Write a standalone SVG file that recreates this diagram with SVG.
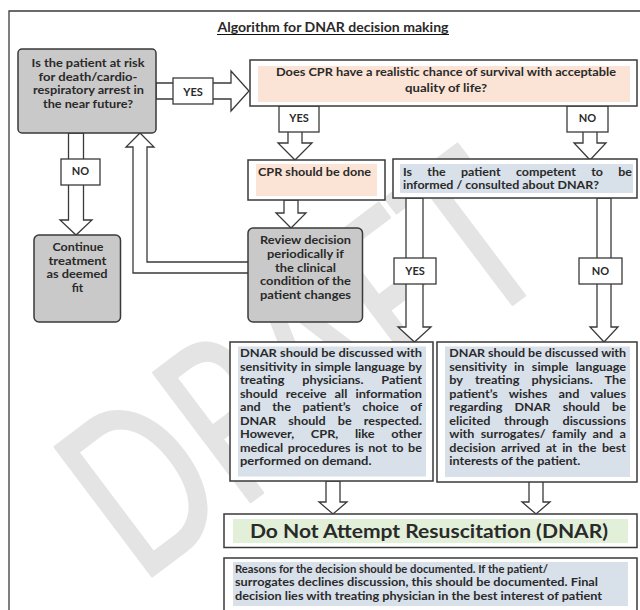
<svg xmlns="http://www.w3.org/2000/svg" width="640" height="610" viewBox="0 0 640 610">
<style>
.frame{fill:none;stroke:#3a3a3a;stroke-width:1.3}
.box{stroke:#3a3a3a;stroke-width:1.5}
.w{fill:#fff}
.g{fill:#c9c9c9}
.pk{fill:#fbe4d5}
.bl{fill:#d8e0ea}
.gr{fill:#e2efd9}
.arr{fill:#fff;stroke:#3a3a3a;stroke-width:1.3;stroke-linejoin:miter}
.lbl{fill:#fff;stroke:#3a3a3a;stroke-width:1.3}
text{font-family:Lato,"Liberation Sans",sans-serif;font-weight:700;fill:#2a2a2a}
.t{font-size:12px}
.s{font-size:11.5px}
.f{font-size:11.5px}
.m{text-anchor:middle}
.l{font-size:11px;text-anchor:middle}
.wm{font-family:Lato,"Liberation Sans",sans-serif;font-weight:400;fill:#e4e4e4;stroke:#e4e4e4;stroke-width:3;stroke-linejoin:round}
</style>
<rect width="640" height="610" fill="#fff"/>
<g id="watermark">
<text class="wm" font-size="225" transform="translate(140,585) rotate(-37) scale(0.72,1)">DRAFT</text>
</g>
<path class="frame" d="M9,610 V11 H640"/>
<g id="title">
<text x="333" y="32" font-size="13" text-anchor="middle" fill="#111" textLength="231" lengthAdjust="spacingAndGlyphs">Algorithm for DNAR decision making</text>
<line x1="217" y1="34.5" x2="449" y2="34.5" stroke="#111" stroke-width="1"/>
</g>
<g id="connectors">
<polygon class="arr" points="156,83 231,83 231,71 249,91 231,111 231,99 156,99"/>
<polygon class="arr" points="68.5,133 83.5,133 83.5,220 92,220 76,235 60,220 68.5,220"/>
<path class="arr" d="M248,262 H147 V147 H154 L140,133 L126,147 H133 V273 H248"/>
<polygon class="arr" points="288,106 302,106 302,143 312,143 295,160 278,143 288,143"/>
<polygon class="arr" points="583,106 597,106 597,143 606,143 590,160 574,143 583,143"/>
<polygon class="arr" points="284,200 298,200 298,213 306,213 291,228 276,213 284,213"/>
<polygon class="arr" points="406,198 423,198 423,327 431,327 414.5,342 398,327 406,327"/>
<polygon class="arr" points="597,198 611,198 611,327 618,327 604,342 590,327 597,327"/>
<polygon class="arr" points="326,481 340,481 340,502 347,502 333,514 319,502 326,502"/>
<polygon class="arr" points="529,481 543,481 543,502 550,502 536,514 522,502 529,502"/>
<rect class="lbl" x="173" y="78" width="40" height="26"/>
<text class="l" x="193" y="95.5">YES</text>
<rect class="lbl" x="61" y="159" width="39" height="26"/>
<text class="l" x="80.5" y="175">NO</text>
<rect class="lbl" x="279" y="106" width="40" height="26"/>
<text class="l" x="299" y="121.5">YES</text>
<rect class="lbl" x="567" y="106" width="41" height="26"/>
<text class="l" x="587.5" y="121.5">NO</text>
<rect class="lbl" x="394" y="258" width="42" height="26"/>
<text class="l" x="415" y="275">YES</text>
<rect class="lbl" x="579" y="258" width="43" height="26"/>
<text class="l" x="600.5" y="275">NO</text>
</g>
<g id="risk">
<rect class="box g" x="18" y="49" width="138" height="84" rx="4"/>
<text class="s m" x="88" y="67" textLength="113" lengthAdjust="spacingAndGlyphs">Is the patient at risk</text>
<text class="s m" x="88" y="80.5" textLength="99" lengthAdjust="spacingAndGlyphs">for death/cardio-</text>
<text class="s m" x="88.5" y="94" textLength="111" lengthAdjust="spacingAndGlyphs">respiratory arrest in</text>
<text class="s m" x="88" y="107.5" textLength="90" lengthAdjust="spacingAndGlyphs">the near future?</text>
</g>
<g id="cpr-chance">
<rect class="box w" x="250" y="60" width="387" height="46"/>
<rect class="pk" x="258" y="66" width="372" height="36"/>
<text class="t m" x="446" y="76" textLength="340" lengthAdjust="spacingAndGlyphs">Does CPR have a realistic chance of survival with acceptable</text>
<text class="t m" x="446" y="92" textLength="82" lengthAdjust="spacingAndGlyphs">quality of life?</text>
</g>
<g id="continue">
<rect class="box g" x="34" y="235" width="86.5" height="87" rx="5"/>
<text class="t m" x="78" y="251" textLength="51" lengthAdjust="spacingAndGlyphs">Continue</text>
<text class="t m" x="77.5" y="264.5" textLength="58" lengthAdjust="spacingAndGlyphs">treatment</text>
<text class="t m" x="77" y="278" textLength="61" lengthAdjust="spacingAndGlyphs">as deemed</text>
<text class="t m" x="77.5" y="292" textLength="11.5" lengthAdjust="spacingAndGlyphs">fit</text>
</g>
<g id="cpr-done">
<rect class="box w" x="248" y="160" width="137" height="40"/>
<rect class="pk" x="256" y="164" width="121" height="32"/>
<text class="t" x="258" y="176" textLength="113" lengthAdjust="spacingAndGlyphs">CPR should be done</text>
</g>
<g id="review">
<rect class="box g" x="248" y="228" width="114.5" height="94" rx="5"/>
<text class="t m" x="305.5" y="244" textLength="91" lengthAdjust="spacingAndGlyphs">Review decision</text>
<text class="t m" x="305.5" y="258" textLength="77" lengthAdjust="spacingAndGlyphs">periodically if</text>
<text class="t m" x="305.5" y="271.5" textLength="61" lengthAdjust="spacingAndGlyphs">the clinical</text>
<text class="t m" x="305.5" y="285" textLength="91" lengthAdjust="spacingAndGlyphs">condition of the</text>
<text class="t m" x="305.5" y="298.5" textLength="91" lengthAdjust="spacingAndGlyphs">patient changes</text>
</g>
<g id="competent">
<rect class="box w" x="393" y="159" width="244" height="39"/>
<rect class="bl" x="400" y="164" width="233" height="29"/>
<text class="s" x="403" y="175.5" style="word-spacing:11.4px" textLength="229" lengthAdjust="spacingAndGlyphs">Is the patient competent to be</text>
<text class="s" x="403" y="189" textLength="196" lengthAdjust="spacingAndGlyphs">informed / consulted about DNAR?</text>
</g>
<g id="dnar-competent">
<rect class="box w" x="230" y="342" width="203" height="139"/>
<rect class="bl" x="238" y="346.5" width="188" height="130"/>
<text class="t" x="240" y="357" textLength="182" lengthAdjust="spacingAndGlyphs">DNAR should be discussed with</text>
<text class="t" x="240" y="370.5" style="word-spacing:0.5px" textLength="182" lengthAdjust="spacingAndGlyphs">sensitivity in simple language by</text>
<text class="t" x="240" y="384" style="word-spacing:13.9px" textLength="182" lengthAdjust="spacingAndGlyphs">treating physicians. Patient</text>
<text class="t" x="240" y="397.5" style="word-spacing:4.7px" textLength="182" lengthAdjust="spacingAndGlyphs">should receive all information</text>
<text class="t" x="240" y="411" style="word-spacing:8.2px" textLength="182" lengthAdjust="spacingAndGlyphs">and the patient’s choice of</text>
<text class="t" x="240" y="424.5" style="word-spacing:8.7px" textLength="182" lengthAdjust="spacingAndGlyphs">DNAR should be respected.</text>
<text class="t" x="240" y="438" style="word-spacing:12.7px" textLength="182" lengthAdjust="spacingAndGlyphs">However, CPR, like other</text>
<text class="t" x="240" y="451.5" style="word-spacing:1.4px" textLength="182" lengthAdjust="spacingAndGlyphs">medical procedures is not to be</text>
<text class="t" x="240" y="465" textLength="131.5" lengthAdjust="spacingAndGlyphs">performed on demand.</text>
</g>
<g id="dnar-surrogate">
<rect class="box w" x="437" y="342" width="200" height="140"/>
<rect class="bl" x="445" y="346.5" width="185" height="130.5"/>
<text class="t" x="449.3" y="357" textLength="176.7" lengthAdjust="spacingAndGlyphs">DNAR should be discussed with</text>
<text class="t" x="449.3" y="370.5" style="word-spacing:4.1px" textLength="176.7" lengthAdjust="spacingAndGlyphs">sensitivity in simple language</text>
<text class="t" x="449.3" y="384" style="word-spacing:8.6px" textLength="176.7" lengthAdjust="spacingAndGlyphs">by treating physicians. The</text>
<text class="t" x="449.3" y="397.5" style="word-spacing:7.7px" textLength="176.7" lengthAdjust="spacingAndGlyphs">patient’s wishes and values</text>
<text class="t" x="449.3" y="411" style="word-spacing:8.6px" textLength="176.7" lengthAdjust="spacingAndGlyphs">regarding DNAR should be</text>
<text class="t" x="449.3" y="424.5" style="word-spacing:10.1px" textLength="176.7" lengthAdjust="spacingAndGlyphs">elicited through discussions</text>
<text class="t" x="449.3" y="438" style="word-spacing:3.2px" textLength="176.7" lengthAdjust="spacingAndGlyphs">with surrogates/ family and a</text>
<text class="t" x="449.3" y="451.5" style="word-spacing:2.3px" textLength="176.7" lengthAdjust="spacingAndGlyphs">decision arrived at in the best</text>
<text class="t" x="449.3" y="465" textLength="131" lengthAdjust="spacingAndGlyphs">interests of the patient.</text>
</g>
<g id="dnar">
<rect class="box w" x="224" y="514" width="413" height="33.5"/>
<rect class="gr" x="233" y="519" width="395" height="24"/>
<text x="429" y="537.5" font-size="19" text-anchor="middle" fill="#111" textLength="358" lengthAdjust="spacingAndGlyphs">Do Not Attempt Resuscitation (DNAR)</text>
</g>
<g id="documentation">
<rect class="box w" x="224" y="558" width="413" height="60"/>
<rect class="bl" x="233" y="562" width="395" height="44"/>
<text class="f" x="235" y="573" textLength="313" lengthAdjust="spacingAndGlyphs">Reasons for the decision should be documented. If the patient/</text>
<text class="f" x="235" y="586" textLength="363" lengthAdjust="spacingAndGlyphs">surrogates declines discussion, this should be documented. Final</text>
<text class="f" x="235" y="599.5" textLength="367" lengthAdjust="spacingAndGlyphs">decision lies with treating physician in the best interest of patient</text>
</g>
</svg>
